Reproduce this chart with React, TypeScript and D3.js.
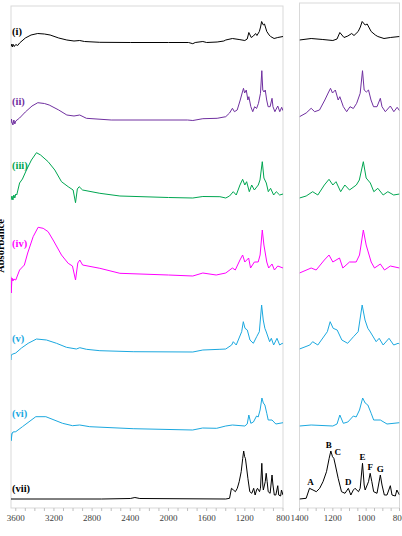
import React from "react";
import * as d3 from "d3";

// stacked FTIR spectra, [wavenumber cm-1, absorbance a.u. incl. stack offset]
const specI: [number, number][] = [
  [3650, 461.5], [3640, 464], [3635, 461], [3625, 463.5], [3615, 461.5], [3600, 463.5], [3580, 462.5],
  [3560, 465], [3500, 470], [3440, 473], [3370, 474.5], [3300, 474], [3240, 473], [3150, 470],
  [3065, 468], [2990, 467], [2930, 467.5], [2880, 466.5], [2720, 465.7], [2400, 465.5], [2000, 465.5],
  [1790, 465.5], [1745, 464.3], [1720, 465.5], [1640, 466.5], [1600, 465.5], [1490, 466], [1420, 467],
  [1400, 468], [1330, 469.5], [1260, 468.5], [1200, 467.5], [1175, 469], [1158, 475.5], [1133, 470.5],
  [1110, 472], [1087, 474.5], [1073, 472.5], [1048, 476.5], [1035, 481], [1024, 486.5], [1006, 483],
  [994, 484], [970, 476.5], [945, 473], [930, 471.5], [893, 469.5], [855, 470.5], [800, 471.5],
];

const specII: [number, number][] = [
  [3650, 384.7], [3645, 389], [3640, 386], [3630, 383], [3620, 388], [3610, 384], [3600, 387],
  [3560, 390], [3500, 396], [3430, 402], [3369, 405.3], [3300, 404.5], [3250, 403], [3150, 398],
  [3065, 393], [2990, 392], [2930, 393], [2860, 389.7], [2600, 388], [1800, 388], [1745, 387.5],
  [1640, 389.3], [1490, 389.7], [1400, 391.3], [1360, 395], [1330, 399.7], [1309, 396.3], [1280, 398],
  [1248, 408], [1228, 415], [1214, 419.7], [1202, 415], [1185, 418], [1168, 408], [1158, 411.3],
  [1137, 401.3], [1117, 396.3], [1097, 401.3], [1077, 399.5], [1057, 404.7], [1036, 414.7], [1022, 437.3],
  [1012, 418], [999, 416], [986, 418], [971, 408], [956, 401.3], [935, 401.3], [915, 409.7], [905, 401.3],
  [885, 396.3], [855, 402], [834, 396.3], [814, 400.7], [800, 397.3],
];

const specIII: [number, number][] = [
  [3650, 308], [3640, 312], [3630, 308], [3620, 313], [3610, 310], [3600, 314], [3590, 313],
  [3560, 325], [3530, 329], [3488, 338], [3436, 348], [3383, 355.3], [3340, 353], [3261, 346.3],
  [3191, 338], [3121, 326.3], [3051, 321.3], [2999, 318], [2974, 305.3], [2955, 319], [2936, 321.3],
  [2900, 318], [2719, 314.7], [2509, 312], [2000, 310.5], [1745, 310], [1640, 311.5], [1461, 311.3],
  [1400, 310], [1360, 312], [1321, 316.3], [1290, 313], [1251, 323], [1223, 328.7], [1200, 323],
  [1181, 326.3], [1153, 316.3], [1128, 323], [1100, 318], [1059, 323], [1041, 328], [1017, 346.3],
  [1000, 330], [975, 325], [954, 316.3], [930, 319.7], [898, 313], [870, 316.3], [835, 313], [800, 314],
];

const specIV: [number, number][] = [
  [3650, 231.3], [3648, 215], [3640, 230], [3630, 227], [3620, 229], [3600, 228], [3560, 238],
  [3510, 243], [3475, 255], [3418, 271.3], [3366, 280.7], [3313, 279.7], [3261, 276.3], [3209, 268],
  [3121, 253], [3051, 244.7], [3006, 242], [2974, 228], [2950, 245], [2929, 248], [2900, 243],
  [2719, 239.7], [2509, 234.7], [2000, 233], [1745, 232], [1640, 235], [1500, 233], [1400, 235],
  [1330, 240], [1300, 238], [1251, 248], [1223, 253], [1200, 246], [1160, 250], [1140, 240],
  [1100, 246], [1060, 246], [1040, 253], [1017, 278], [1000, 263], [970, 246], [950, 240], [915, 244],
  [890, 238], [855, 242], [800, 240],
];

const specV: [number, number][] = [
  [3650, 148], [3648, 153], [3630, 154], [3600, 155], [3540, 160], [3470, 164.7], [3383, 169],
  [3278, 168], [3173, 164.7], [3069, 160.7], [2965, 159], [2929, 160.3], [2860, 158.7], [2719, 157.3],
  [2370, 156.3], [1745, 156], [1640, 158], [1461, 158.7], [1400, 159], [1338, 163], [1321, 166.3],
  [1290, 163], [1233, 176.3], [1216, 186.3], [1198, 179.7], [1174, 178], [1146, 168], [1111, 164.7],
  [1076, 171.3], [1048, 176.3], [1024, 203], [1007, 188], [990, 179.7], [975, 176], [940, 166.3],
  [922, 169.7], [898, 163], [863, 169.7], [835, 163], [808, 164.7], [800, 164],
];

const specVI: [number, number][] = [
  [3650, 74.7], [3648, 67.3], [3640, 74], [3630, 76], [3600, 76.3], [3530, 81.3], [3390, 91.3],
  [3285, 91.3], [3110, 84.7], [3005, 82.3], [2930, 83], [2825, 81.3], [2370, 79.3], [1747, 78],
  [1642, 80], [1495, 79.7], [1400, 82], [1330, 83], [1200, 82], [1175, 84], [1158, 93], [1137, 84.7],
  [1110, 86], [1077, 92], [1060, 91], [1040, 98], [1021, 110], [1006, 105], [990, 103], [970, 94.7],
  [955, 88], [915, 88], [875, 84], [800, 85.3],
];

const specVII: [number, number][] = [
  [3650, 9], [2700, 9], [2400, 9.5], [2352, 10.5], [2300, 9.5], [1400, 9], [1360, 9.7], [1340, 19.7],
  [1319, 18], [1299, 16.3], [1279, 19.7], [1259, 26.3], [1238, 36.3], [1222, 49.7], [1212, 57],
  [1202, 51.3], [1194, 49.7], [1185, 43], [1168, 29.7], [1148, 16.3], [1127, 14.7], [1107, 19.7],
  [1092, 13], [1077, 18], [1067, 19.7], [1046, 16.3], [1036, 19.7], [1022, 44.7], [1012, 23],
  [1006, 18], [986, 26.3], [976, 34.7], [966, 26.3], [955, 16.3], [935, 14.7], [915, 33], [905, 23],
  [891, 13], [875, 13], [855, 22.3], [845, 13], [825, 12], [816, 18], [800, 13],
];

const seriesLabels = ["(i)", "(ii)", "(iii)", "(iv)", "(v)", "(vi)", "(vii)"];
const seriesColors = ["#000000", "#7030a0", "#00a651", "#ff00ff", "#1ba8df", "#1ba8df", "#000000"];
const seriesData = [specI, specII, specIII, specIV, specV, specVI, specVII];

const peakNames = ["A", "B", "C", "D", "E", "F", "G"];
const peakWn = [1340, 1212, 1194, 1107, 1022, 976, 915];

const leftTicks = [3600, 3200, 2800, 2400, 2000, 1600, 1200, 800];
const rightTicks = [1400, 1200, 1000, 800];

const W = 402;
const H = 536;
const serif = "'Liberation Serif', 'Times New Roman', serif";

export default function App() {
  const top = 6;
  const bottom = 508;
  const xL = d3.scaleLinear().domain([3650, 800]).range([11, 283]);
  const xR = d3.scaleLinear().domain([1400, 800]).range([299.5, 399.5]);
  const y = d3.scaleLinear().domain([0, 502]).range([bottom, top]);

  const lineL = d3.line<[number, number]>().x((d) => xL(d[0])).y((d) => y(d[1]));
  const lineR = d3.line<[number, number]>().x((d) => xR(d[0])).y((d) => y(d[1]));

  const minorL = d3.range(3600, 799, -100);
  const minorR = d3.range(1400, 799, -50);

  // label lift above each trace's left end
  const labelLift = [12, 18, 31.5, 30, 18, 16, 7];
  // letter nudges so they sit beside shoulders like in the figure
  const peakDx: Record<string, number> = { A: 1, B: -2, C: 4, D: 0, E: 0, F: 0, G: 0 };

  return (
    <svg width={W} height={H} style={{ position: "absolute", left: 0, top: 0, background: "#fff" }}>
      <defs>
        <clipPath id="clipL">
          <rect x={11} y={top} width={272} height={bottom - top} />
        </clipPath>
        <clipPath id="clipR">
          <rect x={299.5} y={3} width={100} height={bottom - 3} />
        </clipPath>
      </defs>

      {/* panel frames */}
      <rect x={11} y={top} width={272} height={bottom - top} fill="none" stroke="#d9d9d9" />
      <rect x={299.5} y={3} width={100} height={bottom - 3} fill="none" stroke="#d9d9d9" />

      <g clipPath="url(#clipL)">
        {seriesData.map((s, i) => (
          <path key={i} d={lineL(s) || ""} fill="none" stroke={seriesColors[i]} strokeWidth={1} />
        ))}
      </g>
      <g clipPath="url(#clipR)">
        {seriesData.map((s, i) => (
          <path
            key={i}
            d={lineR(s.filter((d) => d[0] <= 1400)) || ""}
            fill="none"
            stroke={seriesColors[i]}
            strokeWidth={1}
          />
        ))}
      </g>

      {/* series labels */}
      {seriesLabels.map((lab, i) => (
        <text
          key={lab}
          x={12}
          y={y(seriesData[i][0][1]) - labelLift[i]}
          fontFamily={serif}
          fontWeight="bold"
          fontSize={10.5}
          fill={seriesColors[i]}
        >
          {lab}
        </text>
      ))}

      {/* peak letters on (vii) */}
      {peakNames.map((p, i) => {
        const pt = specVII.find((d) => d[0] === peakWn[i])!;
        return (
          <text
            key={p}
            x={xR(peakWn[i]) + peakDx[p]}
            y={y(pt[1]) - 3}
            textAnchor="middle"
            fontFamily={serif}
            fontWeight="bold"
            fontSize={9}
          >
            {p}
          </text>
        );
      })}

      {/* x axes */}
      {minorL.map((t) => (
        <line key={"ml" + t} x1={xL(t)} x2={xL(t)} y1={bottom} y2={bottom + 3} stroke="#bfbfbf" />
      ))}
      {minorR.map((t) => (
        <line key={"mr" + t} x1={xR(t)} x2={xR(t)} y1={bottom} y2={bottom + 3} stroke="#bfbfbf" />
      ))}
      {leftTicks.map((t) => (
        <text key={"tl" + t} x={xL(t)} y={bottom + 13} textAnchor="middle" fontFamily={serif} fontSize={9} fill="#404040">
          {t}
        </text>
      ))}
      {rightTicks.map((t) => (
        <text key={"tr" + t} x={xR(t)} y={bottom + 13} textAnchor="middle" fontFamily={serif} fontSize={9} fill="#404040">
          {t}
        </text>
      ))}

      <text
        transform="translate(4,246) rotate(-90)"
        textAnchor="middle"
        fontFamily={serif}
        fontWeight="bold"
        fontSize={10.5}
        fill="#000"
      >
        Absorbance
      </text>
    </svg>
  );
}
